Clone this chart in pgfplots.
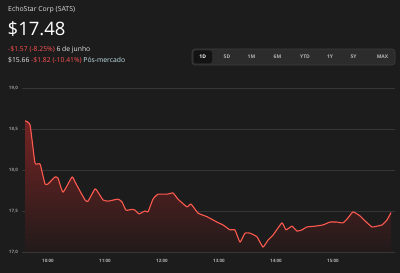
\documentclass[border=0pt]{standalone}
\usepackage{pgfplots}
\pgfplotsset{compat=1.18}
\usepackage{pgfplotstable}
\usepackage{fontspec}
\setmainfont{Open Sans}
\definecolor{bg}{HTML}{1C1C1C}
\definecolor{gridc}{HTML}{363636}
\definecolor{linec}{HTML}{FF5A4F}
\definecolor{redt}{HTML}{FF5252}
\definecolor{fillt}{HTML}{752424}
\definecolor{fillb}{HTML}{221A1A}
\definecolor{btn}{HTML}{2C2C2C}
\definecolor{btnb}{HTML}{3C3C3C}
\definecolor{btnsel}{HTML}{131313}
\definecolor{pos}{HTML}{C4E4EE}
\pgfplotstableread{
m p
5.8 18.60
11.1 18.55
16.3 18.085
21.6 18.073
26.8 17.83
30 17.83
37.4 17.915
40.5 17.90
45.8 17.73
55.3 17.915
58.4 17.855
68.9 17.635
72.1 17.62
79.5 17.77
82.6 17.73
87.9 17.635
93.2 17.62
103.7 17.645
107.9 17.61
112.1 17.51
118.4 17.52
121.6 17.51
125.8 17.465
132.1 17.50
135.3 17.49
140.5 17.645
145.8 17.705
155.3 17.705
161.6 17.72
166.8 17.645
176.3 17.55
180.5 17.585
187.9 17.475
197.4 17.43
207.9 17.365
214.2 17.33
221.6 17.27
226.8 17.27
232.1 17.12
237.4 17.23
242.6 17.23
250 17.185
256.3 17.06
261.6 17.145
266.8 17.205
276.3 17.355
280.5 17.27
286.8 17.315
292.1 17.255
297.4 17.27
302.6 17.305
311.1 17.315
319.5 17.33
326.8 17.365
334.2 17.365
340.5 17.355
345.8 17.415
351.1 17.49
358.4 17.44
363.7 17.38
371.1 17.305
376.3 17.315
381.6 17.33
386.8 17.39
391.1 17.48
}\prices
\begin{document}
\begin{tikzpicture}[x=1pt,y=1pt]
\fill[bg] (0,0) rectangle (400,273);
\useasboundingbox (0,0) rectangle (400,273);
% header texts
\node[anchor=base west, inner sep=0, text=white!88!black, font=\fontsize{6.9}{8}\selectfont] at (8,261.5) {EchoStar Corp (SATS)};
\node[anchor=base west, inner sep=0, text=white, font=\fontsize{18.5}{20}\selectfont] at (7.5,237) {\$17.48};
\node[anchor=base west, inner sep=0, font=\fontsize{6.8}{8}\selectfont] at (8,221.5) {\textcolor{redt}{-\$1.57 (-8.25\%)} \textcolor{white!90!black}{6 de junho}};
\node[anchor=base west, inner sep=0, font=\fontsize{6.8}{8}\selectfont] at (8,210) {\textcolor{white!92!black}{\$15.66} \textcolor{redt}{-\$1.82 (-10.41\%)} \textcolor{pos}{Pós-mercado}};
% range buttons
\filldraw[fill=btn, draw=btnb, line width=0.6pt, rounded corners=3pt] (192,208) rectangle (395,224);
\fill[btnsel, rounded corners=2.5pt] (193.5,209.5) rectangle (212,222.5);
\begin{scope}[font=\fontsize{5}{6}\selectfont\bfseries, text=white!70!black]
\node[text=white] at (202.7,216) {1D};
\node at (227,216) {5D};
\node at (251.5,216) {1M};
\node at (277.5,216) {6M};
\node at (305,216) {YTD};
\node at (330,216) {1Y};
\node at (353.5,216) {5Y};
\node at (382.5,216) {MAX};
\end{scope}
\begin{axis}[
  at={(22pt,21pt)}, anchor=south west,
  width=373pt, height=164pt, scale only axis,
  xmin=2.6, xmax=395.3, ymin=17, ymax=19,
  axis line style={draw=none}, tick style={draw=none},
  ytick={17,17.5,18,18.5,19},
  xtick={30,90,150,210,270,330},
  xticklabels={10:00,11:00,12:00,13:00,14:00,15:00},
  ymajorgrids, grid style={color=gridc, line width=0.6pt},
  /pgf/number format/assume math mode=true,
  yticklabel={\pgfmathprintnumber[fixed,fixed zerofill,precision=1,use comma]{\tick}},
  yticklabel style={font=\fontsize{4.5}{5}\selectfont\bfseries, text=white!58!black, xshift=-0.5pt},
  xticklabel style={font=\fontsize{4.5}{5}\selectfont\bfseries, text=white!68!black, yshift=-3.5pt},
]
\addplot[top color=fillt, bottom color=fillb, draw=none, forget plot, smooth, tension=0.25] table[x=m,y=p] {\prices} -- (axis cs:391.1,17) -- (axis cs:5.8,17) -- cycle;
\addplot[linec, line width=1.1pt, line join=round, smooth, tension=0.25] table[x=m,y=p] {\prices};
\end{axis}
\end{tikzpicture}
\end{document}
